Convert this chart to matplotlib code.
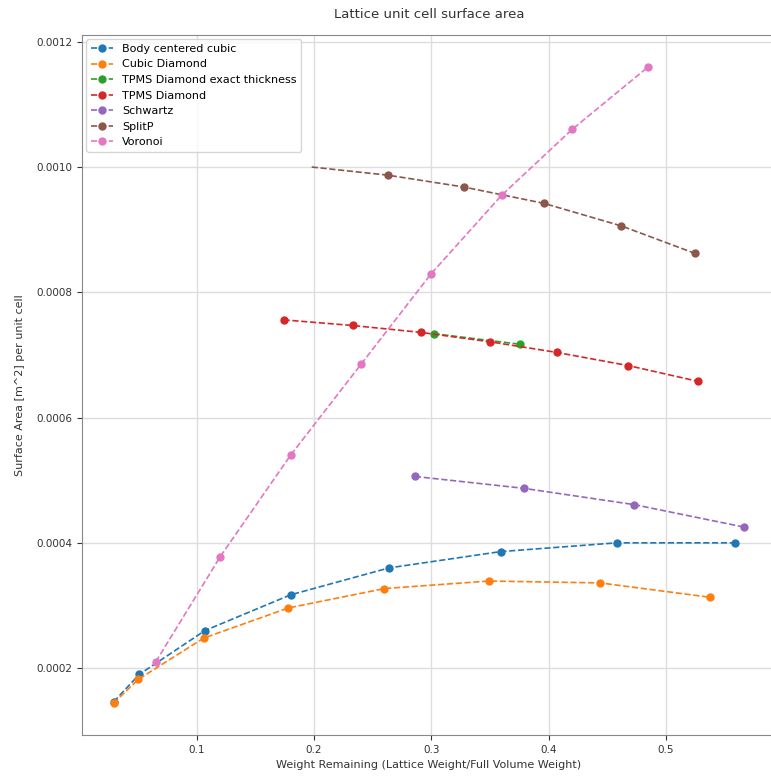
import matplotlib
matplotlib.use("Agg")
import matplotlib.pyplot as plt

bcc_x = [0.029, 0.051, 0.107, 0.180, 0.264, 0.359, 0.458, 0.559]
bcc_y = [0.000146, 0.000190, 0.000260, 0.000317, 0.000360, 0.000386, 0.000400, 0.000400]

cd_x = [0.029, 0.050, 0.106, 0.178, 0.260, 0.349, 0.444, 0.538]
cd_y = [0.000144, 0.000182, 0.000248, 0.000296, 0.000327, 0.000339, 0.000336, 0.000313]

tpe_x = [0.302, 0.376]
tpe_y = [0.000734, 0.000717]

tpd_x = [0.174, 0.233, 0.291, 0.350, 0.407, 0.468, 0.527]
tpd_y = [0.000756, 0.000747, 0.000736, 0.000721, 0.000704, 0.000683, 0.000658]

sch_x = [0.286, 0.379, 0.473, 0.567]
sch_y = [0.000506, 0.000487, 0.000461, 0.000425]

spl_x = [0.198, 0.263, 0.328, 0.396, 0.462, 0.525]
spl_y = [0.001000, 0.000987, 0.000968, 0.000942, 0.000906, 0.000862]

vor_x = [0.065, 0.120, 0.180, 0.240, 0.300, 0.360, 0.420, 0.485]
vor_y = [0.000210, 0.000378, 0.000540, 0.000685, 0.000830, 0.000955, 0.001060, 0.001160]

series = [
    ("Body centered cubic", bcc_x, bcc_y, "tab:blue", None),
    ("Cubic Diamond", cd_x, cd_y, "tab:orange", None),
    ("TPMS Diamond exact thickness", tpe_x, tpe_y, "tab:green", None),
    ("TPMS Diamond", tpd_x, tpd_y, "tab:red", None),
    ("Schwartz", sch_x, sch_y, "tab:purple", None),
    ("SplitP", spl_x, spl_y, "tab:brown", slice(1, None)),
    ("Voronoi", vor_x, vor_y, "tab:pink", None),
]

fig = plt.figure(figsize=(7.71, 7.76), dpi=100)
ax = fig.add_axes([82/771, 41/776, (776-82)/771, (735-35)/776])

for name, xs, ys, c, me in series:
    ax.plot(xs, ys, linestyle="--", marker="o", color=c, lw=1.2, ms=5,
            label=name, markevery=me)

ax.grid(True, color="#dddddd", lw=1)
ax.set_axisbelow(True)
ax.set_xticks([0.1, 0.2, 0.3, 0.4, 0.5])
ax.set_xticklabels(["0.1", "0.2", "0.3", "0.4", "0.5"])
ax.set_yticks([0.0002, 0.0004, 0.0006, 0.0008, 0.0010, 0.0012])
ax.set_yticklabels(["0.0002", "0.0004", "0.0006", "0.0008", "0.0010", "0.0012"])
ax.tick_params(labelsize=7.5, colors="#333333")
for s in ax.spines.values():
    s.set_color("#888888")

ax.set_xlabel("Weight Remaining (Lattice Weight/Full Volume Weight)", fontsize=8, color="#333333")
ax.set_ylabel("Surface Area [m^2] per unit cell", fontsize=8, color="#333333", labelpad=8)
ax.set_title("Lattice unit cell surface area", fontsize=9.5, color="#333333", pad=12)
ax.legend(loc="upper left", fontsize=8, frameon=True, borderaxespad=0.4)

fig.savefig("out.png", dpi=100)
